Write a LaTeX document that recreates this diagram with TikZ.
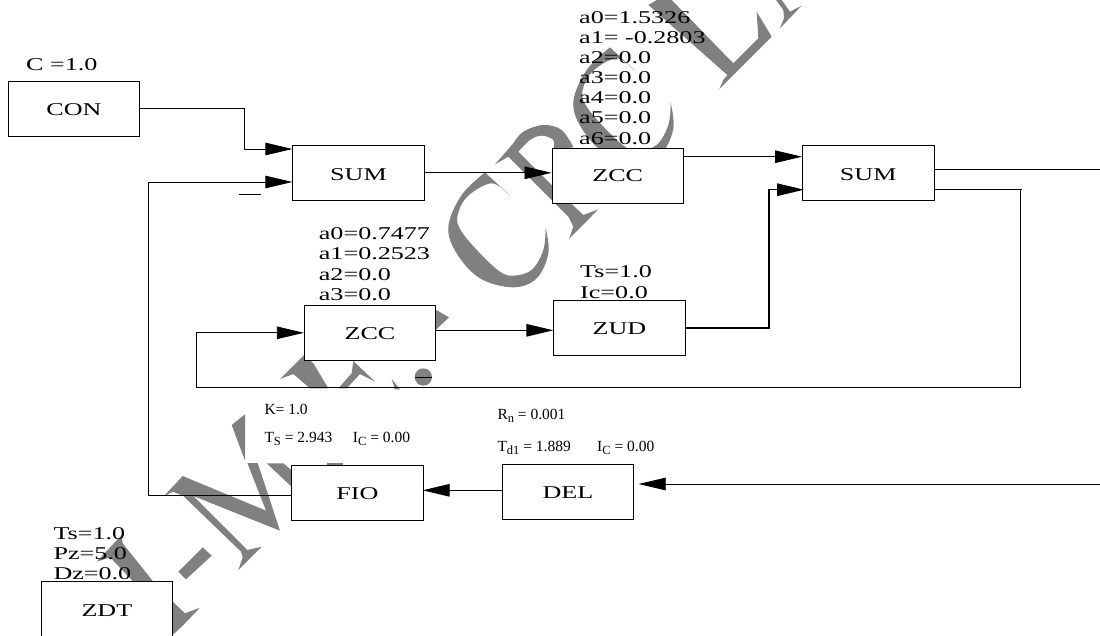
\documentclass[tikz,border=0pt]{standalone}
\usepackage{fontspec}
\usetikzlibrary{arrows.meta}
\setmainfont{Liberation Serif}
\newfontfamily\widefont[FakeStretch=1.45]{Liberation Serif}
\newcommand\sbs[1]{\raisebox{-3.5pt}{\fontsize{12.5}{12.5}\selectfont #1}}
\newcommand\wmC{%
  \fill[wm] plot[smooth,tension=.6] coordinates {(315,517)(245,585)(205,680)(230,760)(300,835)(400,862)(470,835)(505,760)(497,683)}
    -- plot[smooth,tension=.6] coordinates {(497,683)(490,750)(455,810)(400,827)(360,815)(300,760)(245,695)(232,650)(262,590)(335,550)(390,587)} -- cycle;}
\tikzset{
  wm/.style={fill=black!50},
  blockbox/.style={draw=black,line width=.8pt,fill=white,inner sep=0pt,minimum width=131.5pt,minimum height=55pt,font=\widefont\fontsize{18}{21}\selectfont,text depth=0pt},
  param/.style={anchor=base west,inner sep=0pt,font=\widefont\fontsize{18}{21}\selectfont},
  small/.style={anchor=base west,inner sep=0pt,font=\fontsize{15.5}{18}\selectfont},
  conn/.style={draw=black,line width=.8pt},
  heavy/.style={draw=black,line width=1.3pt},
  tip/.style={-{Triangle[length=27pt,width=12.5pt]}}
}
\begin{document}
\begin{tikzpicture}[x=1pt,y=-1pt]
\useasboundingbox (0,0) rectangle (1100,635);
\fill[white] (0,0) rectangle (1100,635);
% watermark: big C
\begin{scope}[shift={(380,0)},x=.33333pt,y=-.33333pt]
  \wmC
\end{scope}
\begin{scope}[shift={(505,-125)},x=.33333pt,y=-.33333pt]
  \wmC
\end{scope}
% watermark: R
\begin{scope}[shift={(490,120)},x=.33333pt,y=-.33333pt]
  \fill[wm] (15,133) -- (70,70) -- plot[smooth,tension=.6] coordinates {(70,70)(100,35)(160,15)(215,30)(250,82)} -- (190,90) -- plot[smooth,tension=.6] coordinates {(190,90)(190,60)(155,47)(120,60)(85,95)} -- (190,200) -- (280,285) -- (325,268) -- (237,357) -- (250,320) -- (235,290) -- (55,110) -- cycle;
\end{scope}
% watermark: L and next letter
\begin{scope}[shift={(640,0)},x=.33333pt,y=-.33333pt]
  \fill[wm] (25,15) -- (50,0) -- (95,0) -- (280,190) -- (355,115) -- (350,35) -- (395,110) -- (238,267) -- (250,240) -- (262,225) -- cycle;
  \fill[wm] (408,0) -- (425,0) -- (450,35) -- (485,17) -- (420,85) -- (432,55) -- (430,30) -- cycle;
\end{scope}
% watermark: M and hyphen
\begin{scope}[shift={(160,470)},x=.33333pt,y=-.33333pt]
  \fill[wm] (12,78) -- (68,18) -- (318,122) -- (262,-21) -- (293,-21) -- (360,182) -- (100,78) -- (262,240) -- (305,230) -- (235,300) -- (248,262) -- (243,245) -- (70,78) -- (40,65) -- cycle;
  \fill[wm] (55,305) -- (128,232) -- (155,257) -- (78,328) -- cycle;
\end{scope}
% watermark: pieces below the lower ZCC
\begin{scope}[shift={(80,300)},x=.33333pt,y=-.33333pt]
  \fill[wm] (1065,28) -- (1107,52) -- (1065,92) -- cycle;
  \fill[wm] (1030,231) circle[radius=26];
  \draw[line width=.7pt] (1005,231) -- (1055,231);
  \fill[wm] (600,237) -- (672,165) -- (700,190) -- (745,265) -- (690,265) -- (640,222) -- cycle;
  \fill[wm] (775,265) -- (800,265) -- (840,222) -- (885,245) -- (820,183) -- (815,220) -- cycle;
  \fill[wm] (935,237) -- (960,268) -- (945,268) -- cycle;
  \fill[wm] (495,343) -- (455,375) -- (495,482) -- cycle;
  \fill[wm] (560,490) -- (610,490) -- (640,515) -- (640,565) -- cycle;
  \fill[wm] (742,490) -- (790,490) -- (790,496) -- (742,496) -- cycle;
\end{scope}
% watermark: first letter
\begin{scope}[shift={(0,480)},x=.33333pt,y=-.33333pt]
  \fill[wm] (365,165) -- (290,245) -- (330,232) -- (400,305) -- (460,305) -- (368,190) -- cycle;
  \fill[wm] (518,365) -- (555,400) -- (600,383) -- (545,440) -- (518,465) -- cycle;
\end{scope}
% blocks
\node[blockbox,text height=13pt] (con) at (74,108.5) {CON};
\node[blockbox,text height=14.4pt] (sumA) at (358.5,172.8) {SUM};
\node[blockbox,text height=12.4pt] (zccA) at (617.7,175.5) {ZCC};
\node[blockbox,text height=16pt] (sumB) at (868.2,172.7) {SUM};
\node[blockbox,text height=12.4pt] (zccB) at (370,332.8) {ZCC};
\node[blockbox,text height=12.6pt] (zud) at (619.5,328) {ZUD};
\node[blockbox,text height=13pt] (fio) at (357.5,492.8) {FIO};
\node[blockbox,text height=13.6pt] (del) at (568,491.5) {DEL};
\node[blockbox,text height=13.6pt] (zdt) at (106.9,609.2) {ZDT};
% free ends
\coordinate (outA) at (1100,169.3);
\coordinate (inB) at (1100,484);
\coordinate (fbEnd) at (1022,189.7);
\coordinate (fbCorner) at (1020,189.7);
\coordinate (fbLow) at (1020,387.7);
\coordinate (fbLeft) at (196.3,387.7);
\coordinate (retLow) at (148.5,495.3);
\coordinate (dashL) at (238.7,194.3);
\coordinate (dashR) at (261,194.3);
% connectors
\draw[conn,tip] (con.east) -- ++(104,0) |- ([yshift=23.8pt]sumA.west);
\draw[conn,tip] ([yshift=-2.5pt]fio.west) -- (retLow) |- ([yshift=-9.2pt]sumA.west);
\draw[conn,tip] (sumA.east) -- ([yshift=2.7pt]zccA.west);
\draw[conn,tip] ([yshift=18.8pt]zccA.east) -- ([yshift=16pt]sumB.west);
\draw[heavy,tip] ([yshift=2.5pt]zccB.east) -- ([yshift=-2.3pt]zud.west);
\draw[heavy,tip,shorten >=-2pt] (zud.east) -- ++(83.4,0) |- ([yshift=-17pt]sumB.west);
\draw[conn] ([yshift=3.4pt]sumB.east) -- (outA);
\draw[heavy] ([yshift=-17pt]sumB.east) -- (fbEnd);
\draw[conn,tip] (fbCorner) -- (fbLow) -- (fbLeft) |- (zccB.west);
\draw[conn,tip,shorten >=4.5pt] (inB) -- ([yshift=7.5pt]del.east);
\draw[conn] (dashL) -- (dashR);
\draw[heavy,tip,shorten >=-1pt] ([yshift=1.2pt]del.west) -- ([yshift=2.5pt]fio.east);
% parameters
\node[param] (pc) at (26,70) {C =1.0};
\node[param] (pa0) at (579,23.5) {a0=1.5326};
\node[param] (pa1) at (579,43.5) {a1= -0.2803};
\node[param] (pa2) at (579,63.5) {a2=0.0};
\node[param] (pa3) at (579,83.5) {a3=0.0};
\node[param] (pa4) at (579,103.5) {a4=0.0};
\node[param] (pa5) at (579,123.5) {a5=0.0};
\node[param] (pa6) at (579,144) {a6=0.0};
\node[param] (qa0) at (318.7,239.3) {a0=0.7477};
\node[param] (qa1) at (318.7,259.3) {a1=0.2523};
\node[param] (qa2) at (318.7,280) {a2=0.0};
\node[param] (qa3) at (318.7,300) {a3=0.0};
\node[param] (uts) at (580,277.3) {Ts=1.0};
\node[param] (uic) at (580,298.3) {Ic=0.0};
\node[param] (dts) at (53.3,539.3) {Ts=1.0};
\node[param] (dpz) at (53.3,559) {Pz=5.0};
\node[param] (ddz) at (53.3,579.3) {Dz=0.0};
\node[small] (fk) at (264.3,414) {K= 1.0};
\node[small] (fts) at (264.3,442) {T\sbs{S} = 2.943};
\node[small] (fic) at (352.7,442) {I\sbs{C} = 0.00};
\node[small] (drn) at (497.3,419) {R\sbs{n} = 0.001};
\node[small] (dtd) at (497.3,451) {T\sbs{d1} = 1.889};
\node[small] (dic) at (597,451) {I\sbs{C} = 0.00};
\end{tikzpicture}
\end{document}
